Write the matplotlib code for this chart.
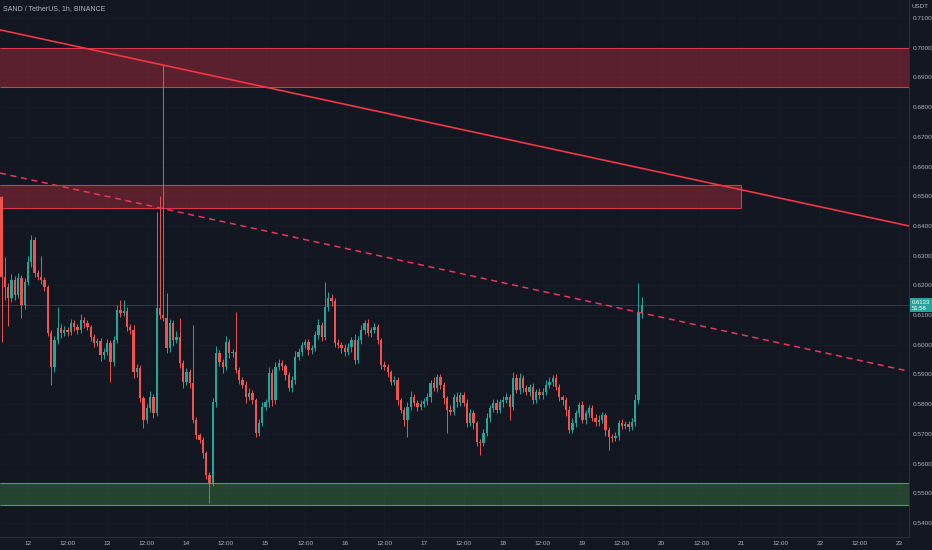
import numpy as np
import matplotlib.pyplot as plt

# SAND / USDT, 1h candles, first candle on day 11 at 16:00
first_open = 0.6497
closes = [
    0.6228, 0.6194, 0.6157, 0.6218, 0.6167, 0.6225, 0.6134, 0.6211, 0.6278, 0.6353,
    0.6241, 0.6228, 0.6218, 0.6194, 0.6039, 0.5925, 0.6016, 0.6056, 0.6039, 0.6050,
    0.6043, 0.6073, 0.6060, 0.6050, 0.6083, 0.6073, 0.6060, 0.6026, 0.6006, 0.6012,
    0.5965, 0.5975, 0.6006, 0.5942, 0.6016, 0.6117, 0.6107, 0.6114, 0.6060, 0.6050,
    0.5908, 0.5922, 0.5821, 0.5747, 0.5787, 0.5824, 0.5770, 0.6124, 0.6100, 0.6090,
    0.5989, 0.6073, 0.6016, 0.6026, 0.5938, 0.5875, 0.5908, 0.5871, 0.5747, 0.5696,
    0.5680, 0.5635, 0.5561, 0.5534, 0.5807, 0.5972, 0.5942, 0.5925, 0.6009, 0.5972,
    0.5975, 0.5915, 0.5882, 0.5865, 0.5824, 0.5838, 0.5814, 0.5703, 0.5737, 0.5791,
    0.5807, 0.5905, 0.5814, 0.5925, 0.5938, 0.5928, 0.5898, 0.5854, 0.5882, 0.5958,
    0.5975, 0.5999, 0.6009, 0.5982, 0.5989, 0.6033, 0.6066, 0.6026, 0.6127, 0.6157,
    0.6147, 0.6006, 0.5999, 0.5989, 0.5975, 0.5992, 0.6016, 0.5949, 0.6016, 0.6050,
    0.6073, 0.6039, 0.6050, 0.6060, 0.6016, 0.5932, 0.5925, 0.5908, 0.5875, 0.5882,
    0.5814, 0.5781, 0.5747, 0.5791, 0.5824, 0.5804, 0.5791, 0.5801, 0.5811, 0.5824,
    0.5871, 0.5854, 0.5891, 0.5865, 0.5821, 0.5781, 0.5774, 0.5824, 0.5807, 0.5831,
    0.5804, 0.5737, 0.5770, 0.5737, 0.5673, 0.5670, 0.5703, 0.5754, 0.5787, 0.5804,
    0.5781, 0.5807, 0.5814, 0.5824, 0.5791, 0.5888, 0.5848, 0.5888, 0.5854, 0.5841,
    0.5858, 0.5814, 0.5841, 0.5831, 0.5841, 0.5865, 0.5875, 0.5888, 0.5858, 0.5824,
    0.5814, 0.5781, 0.5714, 0.5737, 0.5770, 0.5797, 0.5747, 0.5770, 0.5787, 0.5754,
    0.5740, 0.5747, 0.5764, 0.5714, 0.5689, 0.5686, 0.5693, 0.5737, 0.5727, 0.5733,
    0.5723, 0.5740, 0.5814, 0.6110, 0.6133,
]
upper_wicks = [
    .0005, .0068, .0015, .0020, .0012, .0018, .0010, .0015, .0020, .0017,
    .0010, .0012, .0071, .0010, .0008, .0010, .0012, .0071, .0015, .0012,
    .0010, .0015, .0012, .0010, .0020, .0012, .0010, .0008, .0010, .0012,
    .0010, .0015, .0012, .0010, .0012, .0018, .0033, .0036, .0012, .0010,
    .0015, .0012, .0010, .0008, .0015, .0020, .0010, .0323, .0377, .0845,
    .0084, .0015, .0012, .0020, .0064, .0010, .0015, .0012, .0195, .0010,
    .0008, .0010, .0008, .0010, .0015, .0025, .0012, .0010, .0020, .0012,
    .0010, .0135, .0010, .0008, .0012, .0015, .0010, .0008, .0012, .0015,
    .0010, .0020, .0012, .0018, .0015, .0010, .0008, .0010, .0012, .0020,
    .0015, .0012, .0010, .0012, .0010, .0015, .0020, .0012, .0084, .0020,
    .0015, .0010, .0012, .0010, .0012, .0015, .0010, .0020, .0015, .0018,
    .0012, .0015, .0010, .0012, .0010, .0008, .0012, .0010, .0008, .0012,
    .0010, .0008, .0010, .0015, .0020, .0012, .0010, .0012, .0010, .0015,
    .0012, .0020, .0010, .0012, .0010, .0008, .0015, .0012, .0018, .0010,
    .0010, .0012, .0015, .0010, .0008, .0010, .0012, .0015, .0010, .0012,
    .0015, .0010, .0012, .0015, .0010, .0020, .0012, .0018, .0010, .0012,
    .0010, .0012, .0010, .0015, .0012, .0018, .0015, .0010, .0012, .0010,
    .0008, .0010, .0012, .0015, .0010, .0012, .0015, .0010, .0012, .0010,
    .0012, .0015, .0010, .0008, .0010, .0012, .0015, .0010, .0012, .0010,
    .0012, .0015, .0020, .0098, .0028,
]
lower_wicks = [
    .0219, .0044, .0094, .0012, .0015, .0010, .0044, .0012, .0010, .0015,
    .0012, .0010, .0015, .0012, .0010, .0061, .0017, .0012, .0015, .0010,
    .0012, .0010, .0015, .0012, .0010, .0015, .0010, .0012, .0015, .0010,
    .0020, .0012, .0010, .0067, .0015, .0010, .0012, .0010, .0015, .0012,
    .0020, .0015, .0012, .0027, .0010, .0012, .0015, .0010, .0012, .0010,
    .0015, .0012, .0020, .0010, .0015, .0020, .0012, .0015, .0010, .0012,
    .0010, .0015, .0012, .0067, .0010, .0015, .0012, .0020, .0010, .0015,
    .0012, .0010, .0015, .0012, .0020, .0010, .0012, .0015, .0010, .0012,
    .0010, .0015, .0020, .0012, .0010, .0012, .0015, .0010, .0012, .0015,
    .0010, .0012, .0010, .0015, .0012, .0010, .0015, .0012, .0010, .0012,
    .0015, .0012, .0010, .0015, .0012, .0010, .0015, .0012, .0010, .0012,
    .0015, .0010, .0012, .0010, .0015, .0012, .0010, .0015, .0012, .0010,
    .0015, .0012, .0020, .0057, .0012, .0010, .0015, .0012, .0010, .0012,
    .0015, .0010, .0012, .0015, .0020, .0078, .0012, .0010, .0015, .0012,
    .0010, .0015, .0012, .0020, .0015, .0040, .0012, .0010, .0015, .0012,
    .0010, .0012, .0015, .0010, .0044, .0012, .0010, .0015, .0012, .0010,
    .0015, .0012, .0010, .0012, .0015, .0010, .0012, .0015, .0010, .0012,
    .0015, .0020, .0012, .0010, .0015, .0012, .0010, .0015, .0012, .0010,
    .0012, .0015, .0010, .0020, .0043, .0012, .0010, .0015, .0012, .0010,
    .0012, .0010, .0015, .0012, .0020,
]
start_hour = -8          # hours from day 12, 00:00

# drawn zones and trendlines
zone_top = (0.6868, 0.7000)
zone_mid = (0.6460, 0.6538)
zone_mid_end = 216
zone_support = (0.5460, 0.5534)
trend_x = [-8.48, 266.97]
trend_solid = [0.7060, 0.6400]
trend_dashed = [0.6578, 0.5911]

day_names = ['12', '13', '14', '15', '16', '17', '18', '19', '20', '21', '22', '23']
price_ticks = [0.54, 0.55, 0.56, 0.57, 0.58, 0.59, 0.60, 0.61, 0.62, 0.63,
               0.64, 0.65, 0.66, 0.67, 0.68, 0.69, 0.70, 0.71]
countdown = '51:58'

bg = '#131722'
up_col = '#26a69a'
down_col = '#ef5350'
txt_col = '#b2b5be'
font = ['Liberation Sans', 'DejaVu Sans']
red_fill = (0.949, 0.212, 0.271, 0.32)
red_edge = '#d9394b'
green_fill = (0.298, 0.686, 0.314, 0.3)
green_edge = '#5b9a5f'

opens = np.array([first_open] + closes[:-1])
closes = np.array(closes)
highs = np.maximum(opens, closes) + np.array(upper_wicks)
lows = np.minimum(opens, closes) - np.array(lower_wicks)
hours = start_hour + np.arange(len(closes))
cols = [up_col if c >= o else down_col for o, c in zip(opens, closes)]

fig = plt.figure(figsize=(9.32, 5.5), dpi=100, facecolor=bg)
ax = fig.add_axes([0, 13 / 550, 909 / 932, 537 / 550], facecolor=bg)
ax.set_xlim(trend_x[0], trend_x[1])
ax.set_ylim(0.5353, 0.71606)

# zones
x_left, x_right = trend_x
ax.fill_between([x_left, x_right], *zone_top, color=red_fill, lw=0, zorder=1)
ax.hlines(zone_top, x_left, x_right, color=red_edge, lw=0.8, zorder=1)
ax.fill_between([x_left, zone_mid_end], *zone_mid, color=red_fill, lw=0, zorder=1)
ax.hlines(zone_mid, x_left, zone_mid_end, color=red_edge, lw=0.8, zorder=1)
ax.vlines(zone_mid_end, *zone_mid, color=red_edge, lw=0.8, zorder=1)
ax.fill_between([x_left, x_right], *zone_support, color=green_fill, lw=0, zorder=1)
ax.hlines(zone_support, x_left, x_right, color=green_edge, lw=0.8, zorder=1)

# candles
ax.vlines(hours, lows, highs, colors=cols, lw=0.7, zorder=3)
body = np.maximum(np.abs(closes - opens), 0.0003)
ax.bar(hours, body, bottom=np.minimum(opens, closes), width=0.7, color=cols, lw=0, zorder=4)

# trendlines
ax.plot(trend_x, trend_solid, color='#f23645', lw=1.2, zorder=5)
ax.plot(trend_x, trend_dashed, color='#e8365d', lw=1.1, dashes=(4, 3), zorder=5)

# last price line
ax.axhline(closes[-1], color='#363a45', lw=0.7, zorder=2)

# axes styling
ax.yaxis.tick_right()
ax.set_yticks(price_ticks)
ax.set_yticklabels([f'{p:.4f}' for p in price_ticks], family=font)
xt = np.arange(0, 24 * (len(day_names) - 1) + 1, 12)
ax.set_xticks(xt)
ax.set_xticklabels([day_names[k // 2] if k % 2 == 0 else '12:00' for k in range(len(xt))], family=font)
ax.tick_params(axis='both', length=0, labelsize=4.6, colors=txt_col)
ax.tick_params(axis='y', pad=2.8)
ax.tick_params(axis='x', pad=3)
ax.grid(True, color='#181c27', lw=0.6)
ax.set_axisbelow(True)
for s in ['top', 'left']:
    ax.spines[s].set_visible(False)
for s in ['right', 'bottom']:
    ax.spines[s].set_color('#2a2e39')
    ax.spines[s].set_linewidth(0.8)

# price label box
ax.text(1.0035, closes[-1], f'{closes[-1]:.4f}\n{countdown}', transform=ax.get_yaxis_transform(),
        ha='left', va='center', fontsize=4.3, color='white', family=font, linespacing=1.15,
        bbox=dict(boxstyle='square,pad=0.3', facecolor=up_col, edgecolor='none'), clip_on=False, zorder=10)

fig.text(3 / 932, 1 - 9 / 550, 'SAND / TetherUS, 1h, BINANCE', fontsize=5, color=txt_col,
         family=font, va='center', ha='left')
fig.text(912 / 932, 1 - 7 / 550, 'USDT', fontsize=4.5, color=txt_col, family=font, va='center', ha='left')

fig.savefig('out.png', dpi=100, facecolor=bg)
